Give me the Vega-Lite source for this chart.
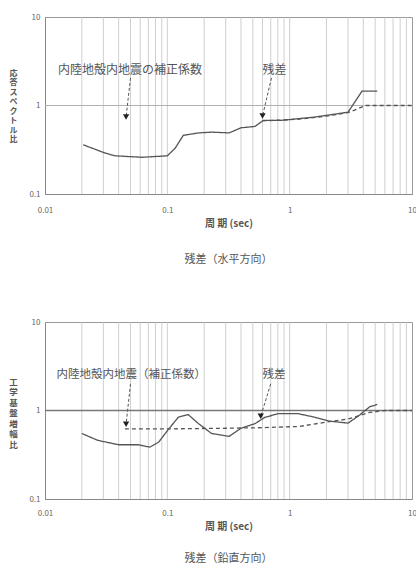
{
  "$schema": "https://vega.github.io/schema/vega-lite/v6.json",
  "padding": {"top": 12, "left": 8, "right": 0, "bottom": 0},
  "background": "white",
  "config": {
    "font": "Noto Sans CJK JP",
    "view": {"stroke": "#9a9a9a", "strokeWidth": 1},
    "concat": {"spacing": 51},
    "axis": {"labelColor": "#666", "titleColor": "#555", "labelFontSize": 8, "titleFontSize": 10, "domainColor": "#888", "ticks": false, "grid": false}
  },
  "datasets": {
    "gridx": [
      {"g": 0.02}, {"g": 0.03}, {"g": 0.04}, {"g": 0.05}, {"g": 0.06}, {"g": 0.07}, {"g": 0.08}, {"g": 0.09}, {"g": 0.1},
      {"g": 0.2}, {"g": 0.3}, {"g": 0.4}, {"g": 0.5}, {"g": 0.6}, {"g": 0.7}, {"g": 0.8}, {"g": 0.9}, {"g": 1},
      {"g": 2}, {"g": 3}, {"g": 4}, {"g": 5}, {"g": 6}, {"g": 7}, {"g": 8}, {"g": 9}
    ],
    "top": [
      {"series": "残差", "x": 0.0205, "y": 0.36}, {"series": "残差", "x": 0.031, "y": 0.29}, {"series": "残差", "x": 0.0375, "y": 0.27},
      {"series": "残差", "x": 0.062, "y": 0.26}, {"series": "残差", "x": 0.1, "y": 0.27}, {"series": "残差", "x": 0.116, "y": 0.33},
      {"series": "残差", "x": 0.135, "y": 0.46}, {"series": "残差", "x": 0.18, "y": 0.49}, {"series": "残差", "x": 0.23, "y": 0.5},
      {"series": "残差", "x": 0.32, "y": 0.49}, {"series": "残差", "x": 0.4, "y": 0.56}, {"series": "残差", "x": 0.52, "y": 0.58},
      {"series": "残差", "x": 0.61, "y": 0.68}, {"series": "残差", "x": 0.86, "y": 0.68}, {"series": "残差", "x": 1.6, "y": 0.74},
      {"series": "残差", "x": 3.0, "y": 0.84}, {"series": "残差", "x": 3.9, "y": 1.45}, {"series": "残差", "x": 5.2, "y": 1.45},
      {"series": "補正係数", "x": 0.6, "y": 0.67}, {"series": "補正係数", "x": 1.2, "y": 0.7}, {"series": "補正係数", "x": 2.0, "y": 0.76},
      {"series": "補正係数", "x": 3.0, "y": 0.83}, {"series": "補正係数", "x": 4.2, "y": 1.0}, {"series": "補正係数", "x": 10, "y": 1.0}
    ],
    "bottom": [
      {"series": "残差", "x": 0.02, "y": 0.55}, {"series": "残差", "x": 0.027, "y": 0.46}, {"series": "残差", "x": 0.04, "y": 0.41},
      {"series": "残差", "x": 0.058, "y": 0.41}, {"series": "残差", "x": 0.072, "y": 0.385}, {"series": "残差", "x": 0.085, "y": 0.44},
      {"series": "残差", "x": 0.1, "y": 0.59}, {"series": "残差", "x": 0.123, "y": 0.84}, {"series": "残差", "x": 0.148, "y": 0.9},
      {"series": "残差", "x": 0.18, "y": 0.71}, {"series": "残差", "x": 0.23, "y": 0.55}, {"series": "残差", "x": 0.32, "y": 0.51},
      {"series": "残差", "x": 0.4, "y": 0.63}, {"series": "残差", "x": 0.52, "y": 0.71}, {"series": "残差", "x": 0.63, "y": 0.84},
      {"series": "残差", "x": 0.81, "y": 0.92}, {"series": "残差", "x": 1.18, "y": 0.92}, {"series": "残差", "x": 1.6, "y": 0.84},
      {"series": "残差", "x": 2.1, "y": 0.76}, {"series": "残差", "x": 3.0, "y": 0.72}, {"series": "残差", "x": 3.7, "y": 0.88},
      {"series": "残差", "x": 4.5, "y": 1.1}, {"series": "残差", "x": 5.2, "y": 1.17},
      {"series": "補正係数", "x": 0.045, "y": 0.62}, {"series": "補正係数", "x": 0.1, "y": 0.62}, {"series": "補正係数", "x": 0.3, "y": 0.63},
      {"series": "補正係数", "x": 0.6, "y": 0.64}, {"series": "補正係数", "x": 1.2, "y": 0.66}, {"series": "補正係数", "x": 2.0, "y": 0.74},
      {"series": "補正係数", "x": 3.0, "y": 0.8}, {"series": "補正係数", "x": 4.5, "y": 0.95}, {"series": "補正係数", "x": 6, "y": 1.0},
      {"series": "補正係数", "x": 10, "y": 1.0}
    ],
    "notesTop": [
      {"label": "内陸地殻内地震の補正係数", "tx": 0.0128, "ty": 2.5, "x1": 0.05, "y1": 2.05, "x2": 0.046, "y2": 0.74},
      {"label": "残差", "tx": 0.6, "ty": 2.5, "x1": 0.71, "y1": 2.05, "x2": 0.6, "y2": 0.76}
    ],
    "notesBottom": [
      {"label": "内陸地殻内地震（補正係数）", "tx": 0.0124, "ty": 2.5, "x1": 0.05, "y1": 2.0, "x2": 0.046, "y2": 0.7},
      {"label": "残差", "tx": 0.6, "ty": 2.5, "x1": 0.7, "y1": 2.0, "x2": 0.58, "y2": 0.86}
    ]
  },
  "vconcat": [
    {
      "width": 367,
      "height": 177,
      "title": {"text": "残差（水平方向）", "orient": "bottom", "offset": 26, "fontSize": 11, "fontWeight": "normal", "color": "#555"},
      "layer": [
        {
          "data": {"name": "gridx"},
          "mark": {"type": "rule", "color": "#c4c4c4", "strokeWidth": 0.8},
          "encoding": {
            "x": {"field": "g", "type": "quantitative", "scale": {"type": "log", "domain": [0.01, 10]},
              "axis": {"values": [0.01, 0.1, 1, 10], "format": "~g", "title": "周 期 (sec)", "labelPadding": 12, "titlePadding": 4, "labelFlush": false}}
          }
        },
        {
          "data": {"values": [{"v": 1}]},
          "mark": {"type": "rule", "color": "#b0b0b0", "strokeWidth": 1},
          "encoding": {
            "y": {"field": "v", "type": "quantitative", "scale": {"type": "log", "domain": [0.1, 10]},
              "axis": {"values": [0.1, 1, 10], "format": "~g", "labelPadding": 5, "titleAngle": 0, "titleAlign": "center", "titleBaseline": "top", "titleX": -32, "titleY": 52, "titleFontSize": 8, "titleLineHeight": 9.5,
                "title": ["応", "答", "ス", "ペ", "ク", "ト", "ル", "比"]}}
          }
        },
        {
          "data": {"name": "top"},
          "mark": {"type": "line", "color": "#555", "strokeWidth": 1.3},
          "encoding": {
            "x": {"field": "x", "type": "quantitative"},
            "y": {"field": "y", "type": "quantitative"},
            "detail": {"field": "series"},
            "strokeDash": {"field": "series", "type": "nominal", "scale": {"domain": ["残差", "補正係数"], "range": [[1, 0], [4, 3]]}, "legend": null}
          }
        },
        {
          "data": {"name": "notesTop"},
          "layer": [
            {"mark": {"type": "rule", "color": "#555", "strokeDash": [3, 2], "strokeWidth": 1},
             "encoding": {"x": {"field": "x1", "type": "quantitative"}, "y": {"field": "y1", "type": "quantitative"}, "x2": {"field": "x2"}, "y2": {"field": "y2"}}},
            {"mark": {"type": "point", "shape": "triangle-down", "filled": true, "color": "#222", "size": 40, "opacity": 1},
             "encoding": {"x": {"field": "x2", "type": "quantitative"}, "y": {"field": "y2", "type": "quantitative"}}},
            {"mark": {"type": "text", "align": "left", "baseline": "middle", "fontSize": 12, "color": "#555"},
             "encoding": {"x": {"field": "tx", "type": "quantitative"}, "y": {"field": "ty", "type": "quantitative"}, "text": {"field": "label"}}}
          ]
        }
      ]
    },
    {
      "width": 367,
      "height": 177,
      "title": {"text": "残差（鉛直方向）", "orient": "bottom", "offset": 22, "fontSize": 11, "fontWeight": "normal", "color": "#555"},
      "layer": [
        {
          "data": {"name": "gridx"},
          "mark": {"type": "rule", "color": "#c4c4c4", "strokeWidth": 0.8},
          "encoding": {
            "x": {"field": "g", "type": "quantitative", "scale": {"type": "log", "domain": [0.01, 10]},
              "axis": {"values": [0.01, 0.1, 1, 10], "format": "~g", "title": "周 期 (sec)", "labelPadding": 10, "titlePadding": 4, "labelFlush": false}}
          }
        },
        {
          "data": {"values": [{"v": 1}]},
          "mark": {"type": "rule", "color": "#777", "strokeWidth": 1.3},
          "encoding": {
            "y": {"field": "v", "type": "quantitative", "scale": {"type": "log", "domain": [0.1, 10]},
              "axis": {"values": [0.1, 1, 10], "format": "~g", "labelPadding": 5, "titleAngle": 0, "titleAlign": "center", "titleBaseline": "top", "titleX": -32, "titleY": 55, "titleFontSize": 8.5, "titleLineHeight": 10.5,
                "title": ["工", "学", "基", "盤", "増", "幅", "比"]}}
          }
        },
        {
          "data": {"name": "bottom"},
          "mark": {"type": "line", "color": "#555", "strokeWidth": 1.3},
          "encoding": {
            "x": {"field": "x", "type": "quantitative"},
            "y": {"field": "y", "type": "quantitative"},
            "detail": {"field": "series"},
            "strokeDash": {"field": "series", "type": "nominal", "scale": {"domain": ["残差", "補正係数"], "range": [[1, 0], [4, 3]]}, "legend": null}
          }
        },
        {
          "data": {"name": "notesBottom"},
          "layer": [
            {"mark": {"type": "rule", "color": "#555", "strokeDash": [3, 2], "strokeWidth": 1},
             "encoding": {"x": {"field": "x1", "type": "quantitative"}, "y": {"field": "y1", "type": "quantitative"}, "x2": {"field": "x2"}, "y2": {"field": "y2"}}},
            {"mark": {"type": "point", "shape": "triangle-down", "filled": true, "color": "#222", "size": 40, "opacity": 1},
             "encoding": {"x": {"field": "x2", "type": "quantitative"}, "y": {"field": "y2", "type": "quantitative"}}},
            {"mark": {"type": "text", "align": "left", "baseline": "middle", "fontSize": 11.5, "color": "#555"},
             "encoding": {"x": {"field": "tx", "type": "quantitative"}, "y": {"field": "ty", "type": "quantitative"}, "text": {"field": "label"}}}
          ]
        }
      ]
    }
  ]
}
